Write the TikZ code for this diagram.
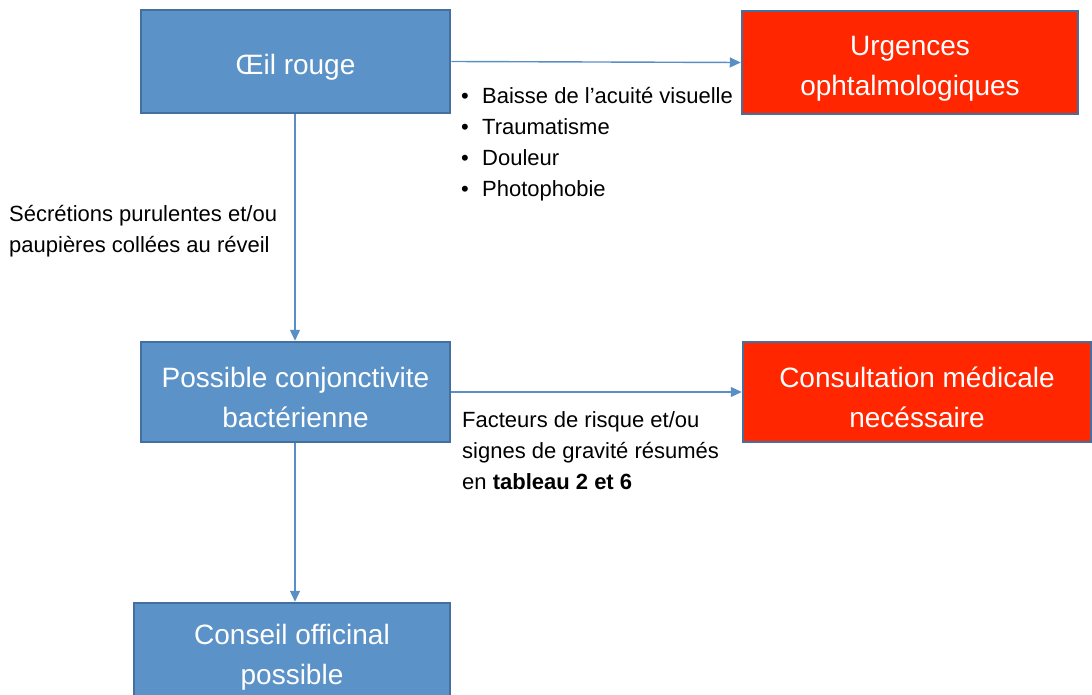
\documentclass[tikz,border=0pt]{standalone}
\usepackage{fontspec}
\setmainfont{Liberation Sans}
\usetikzlibrary{arrows.meta}
\definecolor{boxblue}{HTML}{5B92C7}
\definecolor{boxedge}{HTML}{43709E}
\definecolor{boxred}{HTML}{FF2600}
\definecolor{linkblue}{HTML}{5A8FC6}
\newcommand{\topstrut}{\rule{0pt}{31pt}}
\tikzset{
  bluebox/.style={draw=boxedge, line width=2.5pt, fill=boxblue, text=white, align=center,
    font=\fontsize{28}{40}\selectfont, inner sep=0pt},
  redbox/.style={bluebox, fill=boxred},
  link/.style={draw=linkblue, line width=1.4pt, -{Triangle[length=11pt,width=10pt]}},
  lbl/.style={align=left, anchor=north west, inner sep=0pt, text=black,
    font=\fontsize{22}{31}\selectfont},
}
\begin{document}
\begin{tikzpicture}[x=1pt,y=-1pt]
\useasboundingbox (0,0) rectangle (1092,695);
\node[bluebox, minimum width=309pt, minimum height=103pt] (oeil) at (295.5,61.5) {\topstrut Œil rouge};
\node[redbox, minimum width=336pt, minimum height=103pt] (urg) at (910,62.5) {\topstrut Urgences\\ophtalmologiques};
\node[bluebox, minimum width=309pt, minimum height=100pt] (conj) at (295.5,392) {\topstrut Possible conjonctivite\\bactérienne};
\node[redbox, minimum width=348pt, minimum height=100pt] (cons) at (917,392) {\topstrut Consultation médicale\\necéssaire};
\node[bluebox, minimum width=316pt, minimum height=97pt] (conseil) at (292,651.5) {\topstrut Conseil officinal\\possible};

\draw[link] (oeil.east) -- (urg.west);
\draw[link] (oeil.south -| 295,0) -- (conj.north -| 295,0);
\draw[link] (conj.east) -- (cons.west);
\draw[link] (conj.south -| 295,0) -- (conseil.north -| 295,0);

\node[lbl] (sympt) at (461,87) {\makebox[21pt][l]{•}Baisse de l’acuité visuelle\\
\makebox[21pt][l]{•}Traumatisme\\
\makebox[21pt][l]{•}Douleur\\
\makebox[21pt][l]{•}Photophobie};
\node[lbl] (secr) at (9,205) {Sécrétions purulentes et/ou\\paupières collées au réveil};
\node[lbl] (fact) at (462,411) {Facteurs de risque et/ou\\signes de gravité résumés\\en \textbf{tableau 2 et 6}};
\end{tikzpicture}
\end{document}
